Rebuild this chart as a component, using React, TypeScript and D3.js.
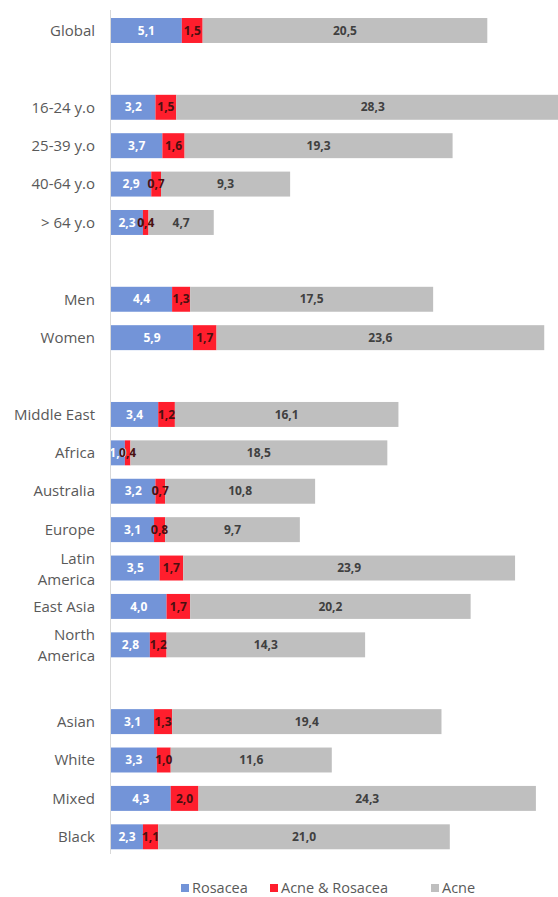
import React from "react";
import * as d3 from "d3";

const categories = [
  "Global", "", "16-24 y.o", "25-39 y.o", "40-64 y.o", "> 64 y.o", " ",
  "Men", "Women", "  ", "Middle East", "Africa", "Australia", "Europe",
  "Latin America", "East Asia", "North America", "   ",
  "Asian", "White", "Mixed", "Black",
];
const rosacea = [5.1, null, 3.2, 3.7, 2.9, 2.3, null, 4.4, 5.9, null, 3.4, 1.0, 3.2, 3.1, 3.5, 4.0, 2.8, null, 3.1, 3.3, 4.3, 2.3];
const both = [1.5, null, 1.5, 1.6, 0.7, 0.4, null, 1.3, 1.7, null, 1.2, 0.4, 0.7, 0.8, 1.7, 1.7, 1.2, null, 1.3, 1.0, 2.0, 1.1];
const acne = [20.5, null, 28.3, 19.3, 9.3, 4.7, null, 17.5, 23.6, null, 16.1, 18.5, 10.8, 9.7, 23.9, 20.2, 14.3, null, 19.4, 11.6, 24.3, 21.0];
const seriesNames = ["Rosacea", "Acne & Rosacea", "Acne"];
const colors = ["#7394D8", "#FF1E2D", "#BFBFBF"];
const labelColors = ["#FFFFFF", "#4A1010", "#404040"];
const twoLine: Record<string, string[]> = {
  "Latin America": ["Latin", "America"],
  "North America": ["North", "America"],
};

const W = 558, H = 897;
const x0 = 111;

export default function App() {
  const y = d3.scaleBand<string>().domain(categories).range([11.3, 856]).paddingInner(0.35).paddingOuter(0.175);
  const x = d3.scaleLinear().domain([0, 27.1]).range([x0, 487.3]);
  const rows = categories.map((c, i) => ({ c, vals: [rosacea[i], both[i], acne[i]] }));
  const fmt = (v: number) => v.toFixed(1).replace(".", ",");
  const font = "'Open Sans', 'Noto Sans', sans-serif";
  const legendItems = [
    { x: 181, i: 0 },
    { x: 270, i: 1 },
    { x: 431, i: 2 },
  ];
  return (
    <svg width={W} height={H} style={{ position: "absolute", left: 0, top: 0 }} fontFamily={font}>
      <rect width={W} height={H} fill="#fff" />
      {rows.map(({ c, vals }) => {
        if (vals[0] == null) return null;
        let acc = 0;
        const yy = y(c)!;
        const bh = y.bandwidth();
        const cy = yy + bh / 2;
        return (
          <g key={c}>
            {vals.map((v, k) => {
              const start = acc;
              acc += v as number;
              const xa = x(start), xb = x(acc);
              return (
                <g key={k}>
                  <rect x={xa} y={yy} width={xb - xa} height={bh} fill={colors[k]} />
                </g>
              );
            })}
            {(() => {
              let a2 = 0;
              return vals.map((v, k) => {
                const s = a2;
                a2 += v as number;
                const cx = (x(s) + x(a2)) / 2;
                return (
                  <text key={"t" + k} x={cx} y={cy} dy="0.35em" textAnchor="middle" fontSize={12} fontWeight="bold" fill={labelColors[k]}>
                    {fmt(v as number)}
                  </text>
                );
              });
            })()}
            {twoLine[c] ? (
              <text x={95} y={cy} textAnchor="end" fontSize={15} fill="#595959">
                <tspan x={95} dy="-0.3em">{twoLine[c][0]}</tspan>
                <tspan x={95} dy="1.4em">{twoLine[c][1]}</tspan>
              </text>
            ) : (
              <text x={95} y={cy} dy="0.35em" textAnchor="end" fontSize={15} fill="#595959">{c}</text>
            )}
          </g>
        );
      })}
      <line x1={x0 - 0.5} x2={x0 - 0.5} y1={10} y2={854} stroke="#D9D9D9" strokeWidth={1} />
      {legendItems.map(({ x: lx, i }) => (
        <g key={i}>
          <rect x={lx} y={884} width={8} height={8} fill={colors[i]} />
          <text x={lx + 11} y={888} dy="0.35em" fontSize={14.5} fill="#595959">{seriesNames[i]}</text>
        </g>
      ))}
    </svg>
  );
}
